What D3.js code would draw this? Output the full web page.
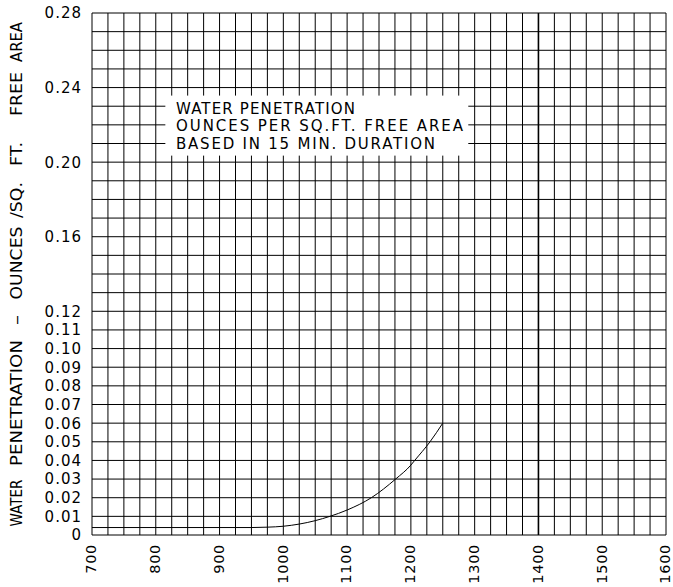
<!DOCTYPE html>
<html>
<head>
<meta charset="utf-8">
<script src="https://cdn.jsdelivr.net/npm/d3@7"></script>
<style>
  body { margin: 0; background: #fff; }
  text { font-family: "DejaVu Sans", sans-serif; fill: #000; }
</style>
</head>
<body>
<div id="chart"></div>
<script>
// Tick values and the curve
const xTicks = [700, 800, 900, 1000, 1100, 1200, 1300, 1400, 1500, 1600];
const yTicks = [0, 0.01, 0.02, 0.03, 0.04, 0.05, 0.06, 0.07, 0.08, 0.09, 0.10, 0.11, 0.12, 0.16, 0.20, 0.24, 0.28];
const yTickLabels = ["0", "0.01", "0.02", "0.03", "0.04", "0.05", "0.06", "0.07", "0.08", "0.09", "0.10", "0.11", "0.12", "0.16", "0.20", "0.24", "0.28"];
const curveX = [700, 950, 975, 1000, 1050, 1073, 1100, 1138, 1176, 1200, 1206, 1230, 1250];
const curveY = [0.004, 0.004, 0.0042, 0.0047, 0.0077, 0.010, 0.0134, 0.020, 0.030, 0.0375, 0.040, 0.050, 0.060];
const noteLines = ["WATER PENETRATION", "OUNCES PER SQ.FT. FREE AREA", "BASED IN 15 MIN. DURATION"];
const titleWords = ["WATER", "PENETRATION", "\u2013", "OUNCES", "/SQ.", "FT.", "FREE", "AREA"];

const width = 673, height = 587;

const svg = d3.select("#chart")
    .append("svg")
    .attr("width", width)
    .attr("height", height);

const x = d3.scaleLinear().domain([700, 1600]).range([92, 666]);
const y = d3.scaleLinear().domain([0, 0.28]).range([535, 13]);

// grid: every 25 along x, every 0.01 along y
const xGrid = d3.range(700, 1601, 25);
const yGrid = d3.range(0, 29).map(i => i / 100);

svg.append("g").selectAll("line")
    .data(xGrid)
    .enter().append("line")
        .attr("x1", d => x(d))
        .attr("x2", d => x(d))
        .attr("y1", y(0.28))
        .attr("y2", y(0))
        .style("stroke", "#000")
        .style("stroke-width", d => d == 1400 ? 1.6 : 1);

svg.append("g").selectAll("line")
    .data(yGrid)
    .enter().append("line")
        .attr("x1", x(700))
        .attr("x2", x(1600))
        .attr("y1", d => y(d))
        .attr("y2", d => y(d))
        .style("stroke", "#000")
        .style("stroke-width", 1);

// note box knocks out the grid
const boxX0 = x(815), boxX1 = x(1290), boxY0 = y(0.2357), boxY1 = y(0.2035);
svg.append("rect")
    .attr("x", boxX0)
    .attr("y", boxY0)
    .attr("width", boxX1 - boxX0)
    .attr("height", boxY1 - boxY0)
    .style("fill", "#fff");

const noteLengths = [179, 287, 259];
svg.append("g").selectAll("text")
    .data(noteLines)
    .enter().append("text")
        .attr("x", 176)
        .attr("y", (d, i) => 113.5 + i * 17.6)
        .attr("textLength", (d, i) => noteLengths[i])
        .attr("lengthAdjust", "spacing")
        .style("font-size", "15px")
        .text(d => d);

// curve
const line = d3.line()
    .x(d => x(d[0]))
    .y(d => y(d[1]))
    .curve(d3.curveMonotoneX);

svg.append("path")
    .datum(curveX.map((v, i) => [v, curveY[i]]))
    .attr("d", line)
    .style("fill", "none")
    .style("stroke", "#000")
    .style("stroke-width", 1);

// y tick labels
svg.append("g").selectAll("text")
    .data(yTicks)
    .enter().append("text")
        .attr("x", 82)
        .attr("y", d => y(d))
        .attr("dy", "0.36em")
        .attr("text-anchor", "end")
        .style("font-size", "15px")
        .style("letter-spacing", "1px")
        .text((d, i) => yTickLabels[i]);

// x tick labels, rotated
svg.append("g").selectAll("text")
    .data(xTicks)
    .enter().append("text")
        .attr("transform", d => `translate(${x(d)},544) rotate(-90)`)
        .attr("dy", "0.3em")
        .attr("text-anchor", "end")
        .style("font-size", "14.5px")
        .style("letter-spacing", "0.7px")
        .text(d => d);

// y axis title, word by word (wide CAD spacing)
const titleCenters = [503, 403, 320, 263, 200, 154, 94, 42];
const titleLengths = [47, 126, 10, 73, 36, 24, 44, 40];
svg.append("g").selectAll("text")
    .data(titleWords)
    .enter().append("text")
        .attr("transform", (d, i) => `translate(17,${titleCenters[i]}) rotate(-90)`)
        .attr("dy", "0.36em")
        .attr("text-anchor", "middle")
        .attr("textLength", (d, i) => titleLengths[i])
        .attr("lengthAdjust", "spacingAndGlyphs")
        .style("font-size", "15px")
        .text(d => d);
</script>
</body>
</html>
